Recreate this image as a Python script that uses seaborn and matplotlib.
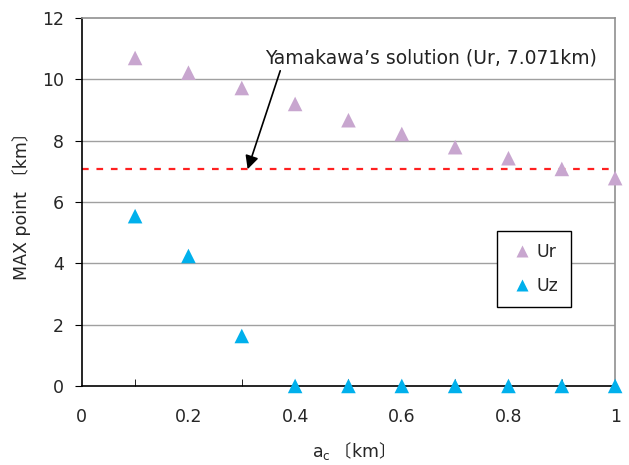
import numpy as np
import pandas as pd
import matplotlib
matplotlib.use("Agg")
import matplotlib.pyplot as plt
import seaborn as sns

ac = [0.1, 0.2, 0.3, 0.4, 0.5, 0.6, 0.7, 0.8, 0.9, 1.0]
ur = [10.7, 10.22, 9.72, 9.2, 8.67, 8.22, 7.79, 7.43, 7.08, 6.78]
uz = [5.54, 4.24, 1.63, 0.0, 0.0, 0.0, 0.0, 0.0, 0.0, 0.0]
yamakawa = 7.071
xticks = [0, 0.2, 0.4, 0.6, 0.8, 1]
yticks = [0, 2, 4, 6, 8, 10, 12]

sns.set_style("white")
plt.rcParams['font.family'] = ['DejaVu Sans', 'Noto Sans CJK JP']
plt.rcParams['mathtext.fontset'] = 'dejavusans'

df = pd.DataFrame({
    "ac": ac * 2,
    "val": ur + uz,
    "series": ["Ur"] * len(ur) + ["Uz"] * len(uz),
})

fig = plt.figure(figsize=(6.29, 4.65), dpi=100)
ax = fig.add_axes([0.130, 0.170, 0.848, 0.791])

for y in yticks[1:-1]:
    ax.axhline(y, color="#a0a0a0", lw=1.0, zorder=0)

sns.scatterplot(data=df, x="ac", y="val", hue="series", style="series",
                markers={"Ur": "^", "Uz": "^"},
                palette={"Ur": "#c8a6cf", "Uz": "#00b0ec"},
                s=110, edgecolor="none", ax=ax, clip_on=False, zorder=3)

ax.plot([0, 1], [yamakawa, yamakawa], color="#ff2020", lw=1.6,
        ls=(0, (3, 3.5)), zorder=2)

ax.annotate("Yamakawa\u2019s solution (Ur, 7.071km)",
            xy=(0.311, yamakawa), xytext=(0.343, 10.7),
            fontsize=13.5, color="#222222", va="center", ha="left",
            arrowprops=dict(arrowstyle="-|>", color="black", lw=1.2,
                            mutation_scale=20, shrinkA=0, shrinkB=0,
                            relpos=(0.05, 0.0)))

ax.set_xlim(0, 1)
ax.set_ylim(0, 12)
ax.set_xticks(xticks)
ax.set_xticklabels(["0", "0.2", "0.4", "0.6", "0.8", "1"])
ax.set_xticks(np.arange(0.1, 1.0, 0.1), minor=True)
ax.set_yticks(yticks)
ax.tick_params(axis="x", which="major", direction="in", length=5, color="black",
               labelsize=12.5, pad=16)
ax.tick_params(axis="x", which="minor", direction="in", length=5, color="black",
               bottom=True)
ax.tick_params(axis="y", direction="out", length=5, color="black", labelsize=12.5,
               left=True, pad=8)

ax.set_xlabel("$\\mathsf{a}_{\\mathsf{c}}$ 〔$\\mathsf{km}$〕", fontsize=12.5,
              labelpad=10, family="Noto Sans CJK JP")
ax.set_ylabel("MAX point 〔km〕", fontsize=12.5, labelpad=8)

for s in ["left", "bottom"]:
    ax.spines[s].set_color("black")
    ax.spines[s].set_linewidth(1.2)
for s in ["top", "right"]:
    ax.spines[s].set_color("#909090")
    ax.spines[s].set_linewidth(1.2)

leg = ax.legend(loc="upper left", bbox_to_anchor=(0.762, 0.445),
                fontsize=12.5, frameon=True, fancybox=False, framealpha=1,
                edgecolor="black", handletextpad=0.1, labelspacing=0.9,
                borderpad=0.7, markerscale=0.8, handlelength=1.5)
leg.get_frame().set_linewidth(1.0)

fig.savefig("out.png", dpi=100)
